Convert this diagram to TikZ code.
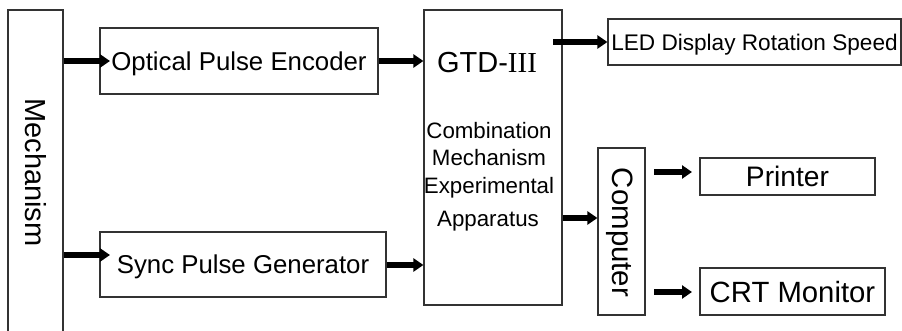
\documentclass[tikz,border=0pt]{standalone}
\usepackage{fontspec}
\setmainfont{Liberation Sans}
\newfontfamily\serifnum{Liberation Serif}
\usetikzlibrary{arrows.meta}
\begin{document}
\begin{tikzpicture}[x=1pt,y=-1pt,
  blk/.style={draw=black!80,line width=1.2pt,inner sep=0pt,rectangle,text depth=0pt},
  lbl/.style={inner sep=0pt,text=black,text depth=0pt},
  thick arrow/.style={line width=6pt,-{Triangle[length=10pt,width=13pt]}},
]
\useasboundingbox (0,0) rectangle (902,331);
\clip (0,0) rectangle (902,331);
\fill[white] (0,0) rectangle (902,331);
% boxes
\node[blk,minimum width=55pt,minimum height=340pt] (mech) at (35.5,180) {};
\node[lbl,rotate=-90,font=\fontsize{29}{29}\selectfont] (mechl) at (36,172.5) {Mechanism};
\node[blk,minimum width=278pt,minimum height=66pt,font=\fontsize{25.8}{26}\selectfont] (ope) at (239,61) {Optical Pulse Encoder};
\node[blk,minimum width=286pt,minimum height=65pt,font=\fontsize{25.8}{26}\selectfont] (spg) at (243,264.5) {Sync Pulse Generator};
\node[blk,minimum width=138pt,minimum height=295pt] (gtd) at (493,157.5) {};
\node[lbl,font=\fontsize{29}{29}\selectfont] (gtdt) at (487,62) {GTD-{\serifnum III}};
\node[lbl,font=\fontsize{22.3}{22}\selectfont] (g1) at (489,130) {Combination};
\node[lbl,font=\fontsize{22.3}{22}\selectfont] (g2) at (489,157) {Mechanism};
\node[lbl,font=\fontsize{22.3}{22}\selectfont] (g3) at (489,185) {Experimental};
\node[lbl,font=\fontsize{22.3}{22}\selectfont] (g4) at (488,219) {Apparatus};
\node[blk,minimum width=293pt,minimum height=46pt,font=\fontsize{22.6}{23}\selectfont] (led) at (754.5,42) {LED Display Rotation Speed};
\node[blk,minimum width=47pt,minimum height=167pt] (comp) at (621.5,231.5) {};
\node[lbl,rotate=-90,font=\fontsize{29.4}{29}\selectfont] (compl) at (623,232.5) {Computer};
\node[blk,minimum width=175pt,minimum height=37pt,font=\fontsize{28.2}{28}\selectfont] (prn) at (787.5,176.5) {Printer};
\node[blk,minimum width=185pt,minimum height=47pt,font=\fontsize{29.3}{29}\selectfont] (crt) at (792.5,291.5) {CRT Monitor};
% free ends
\coordinate (ledstart) at (553,42);
\coordinate (p1) at (654,172);
\coordinate (p2) at (692,172);
\coordinate (c1) at (654,292);
\coordinate (c2) at (692,292);
\coordinate (ope in) at (110,61);
\coordinate (spg in) at (110,255);
% arrows
\draw[thick arrow] (mech.east |- ope in) -- (ope in);
\draw[thick arrow] (mech.east |- spg in) -- (spg in);
\draw[thick arrow] (ope.east) -- (gtd.west |- ope.east);
\draw[thick arrow] (spg.east |- 0,265) -- (gtd.west |- 0,265);
\draw[thick arrow] (ledstart) -- (led.west |- ledstart);
\draw[thick arrow] (gtd.east |- 0,218) -- (comp.west |- 0,218);
\draw[thick arrow] (p1) -- (p2);
\draw[thick arrow] (c1) -- (c2);
\end{tikzpicture}
\end{document}
